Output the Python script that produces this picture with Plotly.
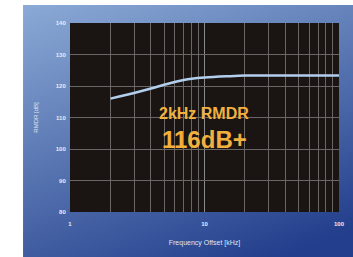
import base64, struct, zlib
import numpy as np
import plotly.graph_objects as go

# Data
freq_khz = [2, 3, 4, 5, 6, 7, 8, 10, 15, 20, 30, 50, 100]
rmdr_db = [116.0, 117.8, 119.2, 120.4, 121.3, 121.9, 122.3, 122.7, 123.1, 123.3, 123.3, 123.3, 123.3]
y_ticks = [80, 90, 100, 110, 120, 130, 140]
x_ticks = [1, 10, 100]
x_minor = [2, 3, 4, 5, 6, 7, 8, 9, 20, 30, 40, 50, 60, 70, 80, 90]

W, H = 353, 257
L, R, T, B = 70, 8, 23, 45
PW, PH = W - L - R, H - T - B

# gradient background panel as PNG
pw, ph = 340, 252
yy, xx = np.mgrid[0:ph, 0:pw]
t = np.clip(0.72 * yy / ph + 0.35 * xx / pw, 0, 1)[..., None]
c0 = np.array([0x8c, 0xaa, 0xd6], float)
c1 = np.array([0x22, 0x3e, 0x8c], float)
img = (c0 * (1 - t) + c1 * t).astype(np.uint8)
raw = b"".join(b"\x00" + img[r].tobytes() for r in range(ph))
def chunk(tag, data):
    return struct.pack(">I", len(data)) + tag + data + struct.pack(">I", zlib.crc32(tag + data) & 0xffffffff)
png = b"\x89PNG\r\n\x1a\n" + chunk(b"IHDR", struct.pack(">IIBBBBB", pw, ph, 8, 2, 0, 0, 0)) + \
      chunk(b"IDAT", zlib.compress(raw, 9)) + chunk(b"IEND", b"")
src = "data:image/png;base64," + base64.b64encode(png).decode()

fig = go.Figure()
fig.add_trace(go.Scatter(x=freq_khz, y=rmdr_db, mode="lines",
                         line=dict(color="#b3cfee", width=2.5, shape="spline"),
                         hoverinfo="skip"))

fig.add_layout_image(dict(source=src, xref="paper", yref="paper",
                          x=(22 - L) / PW, y=(H - B - 5) / PH,
                          sizex=pw / PW, sizey=ph / PH,
                          xanchor="left", yanchor="top", sizing="stretch", layer="below"))
fig.add_shape(type="rect", xref="paper", yref="paper", x0=0, x1=1, y0=0, y1=1,
              fillcolor="#1a1512", line=dict(width=0), layer="below")

fig.add_annotation(text="<b>2kHz RMDR</b>", xref="paper", yref="paper",
                   x=(207 - L) / PW, y=(H - B - 113) / PH, showarrow=False,
                   font=dict(family="Liberation Sans, Arial", size=16, color="#f2b13e"))
fig.add_annotation(text="<b>116dB+</b>", xref="paper", yref="paper",
                   x=(207 - L) / PW, y=(H - B - 139) / PH, showarrow=False,
                   font=dict(family="Liberation Sans, Arial", size=24, color="#f2b13e"))

tickfont = dict(family="Liberation Sans, Arial", size=6, color="#e6ecf6", weight="bold")
fig.update_xaxes(type="log", range=[0, 2], tickvals=x_ticks, ticktext=[str(v) for v in x_ticks],
                 showgrid=True, gridcolor="#8a8a8a", gridwidth=1, zeroline=False,
                 showline=False, ticks="outside", ticklen=6, tickcolor="rgba(0,0,0,0)", tickfont=tickfont,
                 minor=dict(tickvals=x_minor, showgrid=True, gridcolor="#6a6666", gridwidth=1, ticks=""),
                 title=dict(text="Frequency Offset [kHz]", standoff=13,
                            font=dict(family="Liberation Sans, Arial", size=7, color="#dfe6f2")))
fig.update_yaxes(range=[80, 140], tickvals=y_ticks, showgrid=True, gridcolor="#6a6666", gridwidth=1,
                 zeroline=False, showline=False, ticks="outside", ticklen=2, tickcolor="rgba(0,0,0,0)",
                 tickfont=tickfont,
                 title=dict(text="RMDR [dB]", standoff=16,
                            font=dict(family="Liberation Sans, Arial", size=6, color="#dfe6f2")))

fig.update_layout(width=W, height=H, margin=dict(l=L, r=R, t=T, b=B),
                  paper_bgcolor="white", plot_bgcolor="#1a1512", showlegend=False)
fig.write_html("out.html", config={"displayModeBar": False},
               post_script="document.body.style.margin='0';document.body.style.overflow='hidden';")
